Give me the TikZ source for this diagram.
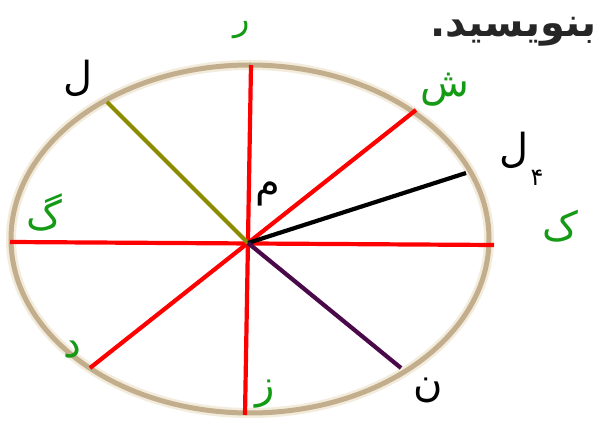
\documentclass[tikz,border=0pt]{standalone}
\usepackage{fontspec}
\newfontfamily\arabicfont[Script=Arabic]{DejaVu Sans}
\TeXXeTstate=1
\definecolor{rimcol}{HTML}{C2AE8C}
\definecolor{glowcol}{HTML}{F3ECDC}
\definecolor{olivecol}{HTML}{8C8C00}
\definecolor{purplecol}{HTML}{4A0A4A}
\definecolor{handgreen}{HTML}{159A15}
\begin{document}
\begin{tikzpicture}[x=1pt,y=-1pt,
  redline/.style={draw=red,line width=4.2pt},
  ray/.style={line width=4.2pt},
  hand/.style={font=\arabicfont\fontsize{40}{40}\selectfont},
  greenlbl/.style={hand,text=handgreen},
  blacklbl/.style={hand,text=black}]
\useasboundingbox (0,0) rectangle (600,427);
\fill[white] (0,0) rectangle (600,427);
% ellipse rim
\draw[glowcol,line width=10pt] (250,239) ellipse [x radius=239, y radius=174];
\draw[rimcol,line width=5pt] (250,239) ellipse [x radius=239, y radius=174];
% coordinates
\coordinate (c) at (248,243);
\coordinate (top) at (251,65);
\coordinate (bot) at (245,415);
\coordinate (lft) at (10,242);
\coordinate (rgt) at (494,245);
\coordinate (dl) at (90,368);
\coordinate (ur) at (416,110);
\coordinate (ul) at (107,102);
\coordinate (er) at (466,173);
\coordinate (lr) at (401,368);
% lines
\draw[redline] (top) -- (bot);
\draw[redline] (lft) -- (rgt);
\draw[redline] (dl) -- (ur);
\draw[ray,draw=olivecol] (ul) -- (c);
\draw[ray,draw=black] (c) -- (er);
\draw[ray,draw=purplecol] (c) -- (lr);
% printed text
\node[font=\arabicfont\bfseries\fontsize{40}{40}\selectfont,text=black!85,anchor=east,inner sep=0pt] (title) at (597,32) {\beginR بنویسید.\endR};
% handwritten labels
\node[greenlbl,font=\arabicfont\fontsize{34}{34}\selectfont,inner sep=1pt] (r) at (242,30) {\beginR ر\endR};
\node[blacklbl] (l1) at (78,78) {\beginR ل\endR};
\node[greenlbl] (sh) at (445,90) {\beginR ش\endR};
\node[blacklbl] (l2) at (514,150) {\beginR ل\endR};
\node[blacklbl,font=\arabicfont\fontsize{24}{24}\selectfont] (four) at (537,178) {\beginR ۴\endR};
\node[blacklbl] (m) at (268,194) {\beginR م\endR};
\node[greenlbl] (g) at (44,212) {\beginR گ\endR};
\node[greenlbl] (k) at (560,226) {\beginR ک\endR};
\node[greenlbl] (d) at (72,350) {\beginR د\endR};
\node[greenlbl] (z) at (265,394) {\beginR ز\endR};
\node[blacklbl] (n) at (428,390) {\beginR ن\endR};
\end{tikzpicture}
\end{document}
